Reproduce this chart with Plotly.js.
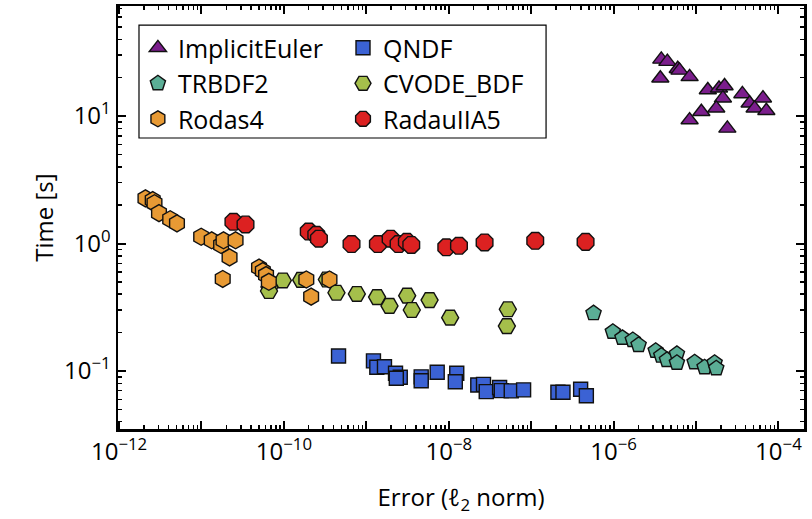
<!DOCTYPE html>
<html><head><meta charset="utf-8">
<script src="https://cdn.plot.ly/plotly-3.0.1.min.js"></script>
<style>html,body{margin:0;padding:0;background:#fff}</style>
</head><body>
<div id="chart" style="width:812px;height:519px"></div>
<script>
// ---- data (error, time) ----
const ieErr  = [3.79e-6, 4.49e-6, 6.0e-6, 6.3e-6, 3.69e-6, 8.36e-6, 1.39e-5, 1.90e-5, 2.22e-5, 2.12e-5, 3.65e-5, 4.47e-5, 6.49e-5, 5.14e-5, 7.13e-5, 1.76e-5, 1.16e-5, 8.36e-6, 2.40e-5];
const ieTime = [27.8, 26.7, 23.5, 22.8, 19.8, 20.3, 16.0, 16.5, 17.2, 13.8, 14.9, 12.6, 13.8, 11.5, 11.0, 11.5, 10.8, 9.3, 8.0];

const qnErr  = [4.60e-10, 1.22e-9, 1.34e-9, 1.66e-9, 2.26e-9, 2.58e-9, 2.31e-9, 4.63e-9, 4.63e-9, 7.24e-9, 1.25e-8, 1.20e-8, 2.25e-8, 2.64e-8, 2.85e-8, 4.14e-8, 4.34e-8, 5.73e-8, 8.09e-8, 2.11e-7, 2.43e-7, 3.98e-7, 4.67e-7];
const qnTime = [0.131, 0.120, 0.107, 0.108, 0.0959, 0.0893, 0.0876, 0.0900, 0.0839, 0.0977, 0.0959, 0.0824, 0.0776, 0.0786, 0.0689, 0.0742, 0.0702, 0.0698, 0.0711, 0.0681, 0.0681, 0.0720, 0.0640];

const trErr  = [5.71e-7, 9.79e-7, 1.28e-6, 1.71e-6, 2.01e-6, 3.24e-6, 3.79e-6, 4.44e-6, 5.86e-6, 5.86e-6, 9.62e-6, 1.27e-5, 1.68e-5, 1.76e-5];
const trTime = [0.284, 0.203, 0.182, 0.175, 0.160, 0.144, 0.132, 0.122, 0.136, 0.116, 0.117, 0.107, 0.116, 0.105];

const cvErr  = [6.68e-11, 6.59e-11, 9.70e-11, 1.62e-10, 3.32e-10, 4.34e-10, 7.67e-10, 1.35e-9, 1.91e-9, 3.13e-9, 3.56e-9, 5.85e-9, 1.04e-8, 5.21e-8, 5.07e-8];
const cvTime = [0.456, 0.424, 0.513, 0.518, 0.522, 0.411, 0.402, 0.380, 0.324, 0.390, 0.301, 0.360, 0.262, 0.305, 0.225];

const roErr  = [2.09e-12, 2.56e-12, 2.69e-12, 3.05e-12, 4.17e-12, 5.04e-12, 9.91e-12, 1.33e-11, 1.73e-11, 1.85e-11, 2.59e-11, 2.19e-11, 1.81e-11, 4.99e-11, 5.55e-11, 6.07e-11, 6.56e-11, 1.87e-10, 2.14e-10, 3.57e-10];
const roTime = [2.26, 2.19, 2.07, 1.73, 1.55, 1.44, 1.13, 1.06, 0.973, 1.06, 1.06, 0.779, 0.527, 0.648, 0.608, 0.566, 0.501, 0.522, 0.383, 0.522];

const raErr  = [2.44e-11, 3.42e-11, 2.00e-10, 2.47e-10, 2.66e-10, 6.61e-10, 1.38e-9, 1.97e-9, 2.46e-9, 3.10e-9, 3.51e-9, 9.33e-9, 1.33e-8, 2.72e-8, 1.12e-7, 4.57e-7];
const raTime = [1.48, 1.41, 1.24, 1.17, 1.09, 0.99, 0.99, 1.09, 0.99, 1.03, 0.975, 0.933, 0.96, 1.02, 1.05, 1.03];

const xTickVals = [1e-12, 1e-11, 1e-10, 1e-9, 1e-8, 1e-7, 1e-6, 1e-5, 1e-4];
const xTickText = ['10<sup>−12</sup>', '', '10<sup>−10</sup>', '', '10<sup>−8</sup>', '', '10<sup>−6</sup>', '', '10<sup>−4</sup>'];
const yTickVals = [0.1, 1, 10];
const yTickText = ['10<sup>−1</sup>', '10<sup>0</sup>', '10<sup>1</sup>'];

// minor ticks 2..9 per decade
function minorTicks(d0, d1) {
  const v = [];
  for (let d = d0; d <= d1; d++) for (let m = 2; m <= 9; m++) v.push(m * Math.pow(10, d));
  return v;
}

const FONT = 'Open Sans, Lato, DejaVu Sans, sans-serif';
const outline = {color: '#111', width: 1.4};

function tr(name, x, y, symbol, color, size, legend) {
  return {
    type: 'scatter', mode: 'markers', name: name, x: x, y: y,
    legend: legend, legendgroup: name,
    marker: {symbol: symbol, color: color, size: size, line: outline}
  };
}

const data = [
  tr('ImplicitEuler', ieErr, ieTime, 'triangle-up', '#7B1E8C', 15, 'legend'),
  tr('QNDF', qnErr, qnTime, 'square', '#3B62D4', 14, 'legend2'),
  tr('TRBDF2', trErr, trTime, 'pentagon', '#5BAE96', 16, 'legend'),
  tr('CVODE_BDF', cvErr, cvTime, 'hexagon2', '#A5BF4B', 17, 'legend2'),
  tr('Rodas4', roErr, roTime, 'hexagon', '#E89A34', 17, 'legend'),
  tr('RadauIIA5', raErr, raTime, 'octagon', '#DC2121', 18, 'legend2')
];

const axisCommon = {
  type: 'log', showgrid: false, zeroline: false,
  showline: true, linecolor: 'black', linewidth: 2.5, mirror: 'allticks',
  ticks: 'inside', ticklen: 8, tickwidth: 2, tickcolor: 'black',
  tickmode: 'array',
  tickfont: {family: FONT, size: 24, color: 'black'}
};

const legendCommon = {
  bgcolor: 'rgba(0,0,0,0)', borderwidth: 0,
  font: {family: FONT, size: 25, color: 'black'},
  tracegroupgap: 0, yanchor: 'top', xanchor: 'left', orientation: 'v'
};

const layout = {
  width: 812, height: 519,
  margin: {l: 118, r: 8, t: 6, b: 90},
  paper_bgcolor: 'white', plot_bgcolor: 'white',
  font: {family: FONT, color: 'black'},
  showlegend: true,
  xaxis: Object.assign({}, axisCommon, {
    range: [-12.013, -3.69],
    tickvals: xTickVals, ticktext: xTickText,
    minor: {ticks: 'inside', ticklen: 4, tickwidth: 1.5, tickcolor: 'black', tickmode: 'array', tickvals: minorTicks(-12, -4), showgrid: false},
    title: {text: 'Error (<i>ℓ</i><sub>2</sub> norm)', font: {family: FONT, size: 24, color: 'black'}, standoff: 23}
  }),
  yaxis: Object.assign({}, axisCommon, {
    range: [-1.455, 1.863],
    tickvals: yTickVals, ticktext: yTickText,
    minor: {ticks: 'inside', ticklen: 4, tickwidth: 1.5, tickcolor: 'black', tickmode: 'array', tickvals: minorTicks(-2, 1), showgrid: false},
    title: {text: 'Time [s]', font: {family: FONT, size: 24, color: 'black'}, standoff: 4}
  }),
  legend: Object.assign({}, legendCommon, {x: 0.029, y: 0.955}),
  legend2: Object.assign({}, legendCommon, {x: 0.328, y: 0.955}),
  shapes: [{
    type: 'rect', xref: 'paper', yref: 'paper',
    x0: 0.0306, x1: 0.624, y0: 0.688, y1: 0.955,
    line: {color: 'black', width: 1.2}, fillcolor: 'rgba(0,0,0,0)', layer: 'above'
  }]
};

Plotly.newPlot('chart', data, layout, {displayModeBar: false, staticPlot: true});
</script>
</body></html>
